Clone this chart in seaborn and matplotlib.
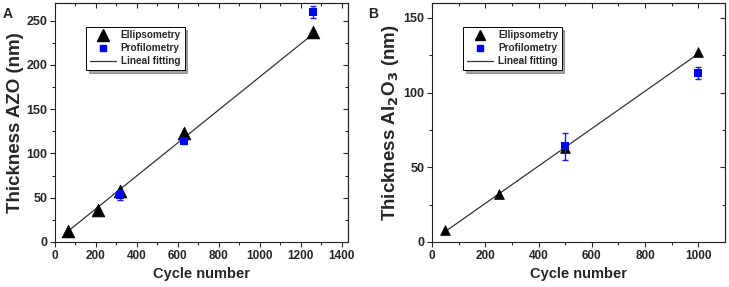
import matplotlib
matplotlib.use("Agg")
import matplotlib.pyplot as plt
import seaborn as sns
import numpy as np
from matplotlib.lines import Line2D

# Panel A: AZO
azo_ell_cycles = [63, 210, 315, 630, 1260]
azo_ell_thick = [12, 36, 57, 123, 237]
azo_prof_cycles = [315, 630, 1260]
azo_prof_thick = [53, 114, 260]
azo_prof_err = [6, 3, 7]
azo_fit_cycles = [63, 1260]
azo_fit_thick = [12, 235]
azo_xticks = [0, 200, 400, 600, 800, 1000, 1200, 1400]
azo_yticks = [0, 50, 100, 150, 200, 250]

# Panel B: Al2O3
al_ell_cycles = [50, 250, 500, 1000]
al_ell_thick = [8, 32, 63, 127]
al_prof_cycles = [500, 1000]
al_prof_thick = [64, 113]
al_prof_err = [9, 4]
al_fit_cycles = [50, 1000]
al_fit_thick = [7, 126]
al_xticks = [0, 200, 400, 600, 800, 1000]
al_yticks = [0, 50, 100, 150]

sns.set_style("ticks")
plt.rcParams["font.family"] = ["Liberation Sans", "DejaVu Sans"]
plt.rcParams["font.weight"] = "bold"
plt.rcParams["mathtext.default"] = "bf"

fig = plt.figure(figsize=(7.29, 2.87), dpi=100)
axA = fig.add_axes([0.0754, 0.157, 0.402, 0.833])
axB = fig.add_axes([0.5926, 0.157, 0.402, 0.833])


def minors(ticks, lim):
    step = ticks[1] - ticks[0]
    m = np.arange(ticks[0] + step / 2, lim, step)
    return [v for v in m if v < lim]


def draw_panel(ax, ell_x, ell_y, prof_x, prof_y, prof_err, fit_x, fit_y,
               tri_size, xticks, yticks, xlim, ylim):
    sns.lineplot(x=fit_x, y=fit_y, color="#333333", lw=0.9, ax=ax)
    sns.scatterplot(x=ell_x, y=ell_y, marker="^", s=tri_size, color="black",
                    edgecolor="black", linewidth=0.5, ax=ax, zorder=3)
    ax.errorbar(prof_x, prof_y, yerr=prof_err, fmt="none", ecolor="#1a1aff",
                elinewidth=1.0, capsize=2.5, zorder=4)
    sns.scatterplot(x=prof_x, y=prof_y, marker="s", s=28, color="#0000ff",
                    edgecolor="#0000ff", linewidth=0, ax=ax, zorder=5)
    ax.set_xlim(*xlim)
    ax.set_ylim(*ylim)
    ax.set_xticks(xticks)
    ax.set_yticks(yticks)
    ax.set_xticks(minors(xticks, xlim[1]), minor=True)
    ax.set_yticks(minors(yticks, ylim[1]), minor=True)
    ax.tick_params(axis="both", which="both", direction="out",
                   top=False, right=False)
    ax.tick_params(axis="x", labelsize=8.5, pad=2)
    ax.tick_params(axis="y", labelsize=9, pad=2)
    ax.tick_params(which="major", length=3.5, width=0.8)
    ax.tick_params(which="minor", length=2, width=0.8)

    # inward ticks on top/right like the original
    sec_x = ax.secondary_xaxis("top")
    sec_x.set_xticks(xticks)
    sec_x.set_xticks(minors(xticks, xlim[1]), minor=True)
    sec_x.set_xticklabels([])
    sec_x.tick_params(which="major", direction="in", length=3.5, width=0.8)
    sec_x.tick_params(which="minor", direction="in", length=2, width=0.8)
    sec_y = ax.secondary_yaxis("right")
    sec_y.set_yticks(yticks)
    sec_y.set_yticks(minors(yticks, ylim[1]), minor=True)
    sec_y.set_yticklabels([])
    sec_y.tick_params(which="major", direction="in", length=3.5, width=0.8)
    sec_y.tick_params(which="minor", direction="in", length=2, width=0.8)

    for sp in ax.spines.values():
        sp.set_visible(True)
        sp.set_linewidth(0.8)
        sp.set_color("#222222")
    for lab in ax.get_xticklabels() + ax.get_yticklabels():
        lab.set_fontweight("bold")
    ax.set_xlabel("Cycle number", fontsize=10.5, fontweight="bold", labelpad=4)

    handles = [
        Line2D([], [], marker="^", ls="none", color="black",
               markersize=8 if tri_size > 60 else 6.5),
        Line2D([], [], marker="s", ls="none", color="#0000ff", markersize=5),
        Line2D([], [], color="#333333", lw=0.9),
    ]
    leg = ax.legend(handles, ["Ellipsometry", "Profilometry", "Lineal fitting"],
                    loc="upper left", bbox_to_anchor=(0.09, 0.92), frameon=True,
                    fancybox=False, shadow=True, edgecolor="black",
                    handlelength=2.6, handletextpad=0.5, borderpad=0.35,
                    labelspacing=0.3, prop={"weight": "bold", "size": 7.2})
    leg.get_frame().set_linewidth(0.7)


draw_panel(axA, azo_ell_cycles, azo_ell_thick, azo_prof_cycles, azo_prof_thick,
           azo_prof_err, azo_fit_cycles, azo_fit_thick, 85,
           azo_xticks, azo_yticks, (0, 1430), (0, 270))
axA.set_ylabel("Thickness AZO (nm)", fontsize=13.5, fontweight="bold", labelpad=2)

draw_panel(axB, al_ell_cycles, al_ell_thick, al_prof_cycles, al_prof_thick,
           al_prof_err, al_fit_cycles, al_fit_thick, 50,
           al_xticks, al_yticks, (0, 1100), (0, 160))
axB.set_ylabel(r"Thickness Al$_\mathbf{2}$O$_\mathbf{3}$ (nm)", fontsize=13.5,
               fontweight="bold", labelpad=2)

fig.text(0.004, 0.975, "A", fontsize=10, fontweight="bold", va="top")
fig.text(0.505, 0.975, "B", fontsize=10, fontweight="bold", va="top")

fig.savefig("out.png", dpi=100)
